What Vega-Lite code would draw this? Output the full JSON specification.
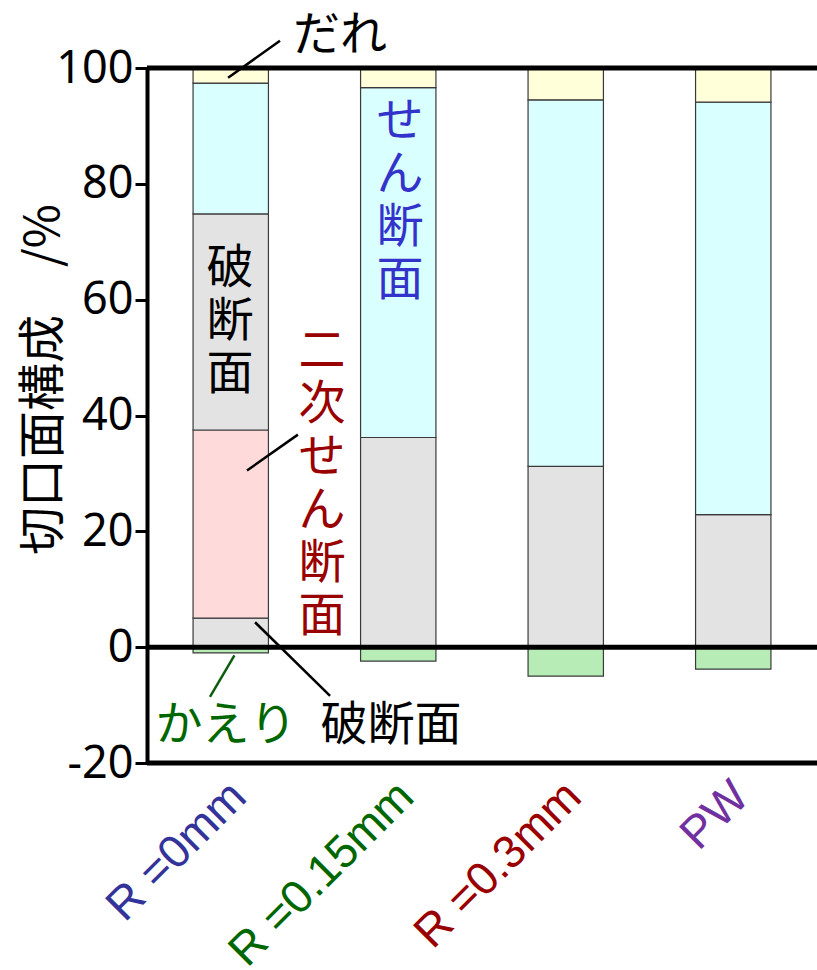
{
  "$schema": "https://vega.github.io/schema/vega-lite/v6.json",
  "width": 670,
  "height": 695,
  "autosize": "none",
  "padding": {"left": 147, "top": 68, "right": 0, "bottom": 207},
  "background": "white",
  "config": {"view": {"stroke": null}, "font": "Noto Sans CJK JP"},
  "datasets": {
    "bars": [
      {"cond": "R=0mm", "part": "かえり", "lo": -1.0, "hi": 0},
      {"cond": "R=0mm", "part": "破断面", "lo": 0, "hi": 5.0},
      {"cond": "R=0mm", "part": "二次せん断面", "lo": 5.0, "hi": 37.5},
      {"cond": "R=0mm", "part": "破断面", "lo": 37.5, "hi": 74.8},
      {"cond": "R=0mm", "part": "せん断面", "lo": 74.8, "hi": 97.4},
      {"cond": "R=0mm", "part": "だれ", "lo": 97.4, "hi": 100},
      {"cond": "R=0.15mm", "part": "かえり", "lo": -2.4, "hi": 0},
      {"cond": "R=0.15mm", "part": "破断面", "lo": 0, "hi": 36.2},
      {"cond": "R=0.15mm", "part": "せん断面", "lo": 36.2, "hi": 96.6},
      {"cond": "R=0.15mm", "part": "だれ", "lo": 96.6, "hi": 100},
      {"cond": "R=0.3mm", "part": "かえり", "lo": -5.0, "hi": 0},
      {"cond": "R=0.3mm", "part": "破断面", "lo": 0, "hi": 31.2},
      {"cond": "R=0.3mm", "part": "せん断面", "lo": 31.2, "hi": 94.5},
      {"cond": "R=0.3mm", "part": "だれ", "lo": 94.5, "hi": 100},
      {"cond": "PW", "part": "かえり", "lo": -3.8, "hi": 0},
      {"cond": "PW", "part": "破断面", "lo": 0, "hi": 22.9},
      {"cond": "PW", "part": "せん断面", "lo": 22.9, "hi": 94.1},
      {"cond": "PW", "part": "だれ", "lo": 94.1, "hi": 100}
    ],
    "refs": [{"v": 100}, {"v": 0}, {"v": -20}],
    "notes": [
      {"text": "だれ", "part": "だれ", "x": 1.152, "y": 105.6},
      {"text": "せ\nん\n断\n面", "part": "せん断面", "x": 1.51, "y": 90.7},
      {"text": "破\n断\n面", "part": "破断面", "x": 0.496, "y": 65.3},
      {"text": "二\n次\nせ\nん\n断\n面", "part": "二次せん断面", "x": 1.045, "y": 50.9},
      {"text": "かえり", "part": "かえり", "x": 0.472, "y": -13.6},
      {"text": "破断面", "part": "破断面", "x": 1.457, "y": -13.6}
    ],
    "leaders": [
      {"part": "だれ", "x": 0.484, "x2": 0.794, "y": 98.3, "y2": 104.7},
      {"part": "二次せん断面", "x": 0.597, "x2": 0.901, "y": 30.5, "y2": 36.7},
      {"part": "かえり", "x": 0.376, "x2": 0.522, "y": -8.6, "y2": -1.4},
      {"part": "破断面", "x": 0.645, "x2": 1.093, "y": 4.3, "y2": -8.4}
    ]
  },
  "layer": [
    {
      "data": {"name": "bars"},
      "mark": {"type": "bar", "stroke": "#3a3a3a", "strokeWidth": 1.2},
      "encoding": {
        "x": {
          "field": "cond", "type": "nominal", "sort": ["R=0mm", "R=0.15mm", "R=0.3mm", "PW"],
          "scale": {"paddingInner": 0.55, "paddingOuter": 0.275},
          "axis": {
            "title": null, "domain": false, "ticks": false, "orient": "bottom",
            "labelAngle": -45, "labelAlign": "right", "labelBaseline": "middle",
            "labelPadding": 26, "labelOffset": 8, "labelFontSize": 46, "labelFont": "Liberation Sans",
            "labelLimit": 0, "labelOverlap": false,
            "labelExpr": "replace(datum.label, '=', ' =')",
            "labelColor": {
              "condition": [
                {"test": "datum.value === 'R=0mm'", "value": "#333399"},
                {"test": "datum.value === 'R=0.15mm'", "value": "#006600"},
                {"test": "datum.value === 'R=0.3mm'", "value": "#990000"}
              ],
              "value": "#7030a0"
            }
          }
        },
        "y": {
          "field": "lo", "type": "quantitative",
          "scale": {"domain": [-20, 100], "nice": false, "zero": false},
          "axis": {
            "title": "切口面構成　/%", "titleFontSize": 48, "titleFontWeight": "normal", "titleColor": "black",
            "titleFont": "Noto Sans CJK JP", "titleX": -103, "titleY": 311, "titleAngle": -90,
            "titleAlign": "center", "titleBaseline": "middle",
            "values": [-20, 0, 20, 40, 60, 80, 100], "grid": false,
            "labelExpr": "replace(datum.label, '−', '-')",
            "domain": true, "domainWidth": 4, "domainColor": "black",
            "ticks": true, "tickWidth": 3, "tickSize": 12, "tickColor": "black",
            "labelFontSize": 45, "labelFont": "Noto Sans", "labelColor": "black", "labelPadding": 2
          }
        },
        "y2": {"field": "hi"},
        "color": {
          "field": "part", "type": "nominal", "legend": null,
          "scale": {
            "domain": ["かえり", "破断面", "二次せん断面", "せん断面", "だれ"],
            "range": ["#b8ecb6", "#e3e3e3", "#ffdada", "#d9ffff", "#ffffd9"]
          }
        }
      }
    },
    {
      "data": {"name": "refs"},
      "mark": {"type": "rule", "strokeWidth": 5, "color": "black"},
      "encoding": {"y": {"field": "v", "type": "quantitative"}}
    },
    {
      "data": {"name": "leaders"},
      "mark": {"type": "rule", "strokeWidth": 2.5},
      "encoding": {
        "x": {"field": "x", "type": "quantitative", "scale": {"domain": [0, 4], "nice": false}, "axis": null},
        "x2": {"field": "x2"},
        "y": {"field": "y", "type": "quantitative"},
        "y2": {"field": "y2"},
        "color": {
          "field": "part", "type": "nominal", "legend": null,
          "scale": {"domain": ["だれ", "二次せん断面", "かえり", "破断面"], "range": ["black", "black", "#0d5c0d", "black"]}
        }
      }
    },
    {
      "data": {"name": "notes"},
      "mark": {"type": "text", "fontSize": 47, "lineBreak": "\n", "lineHeight": 53, "align": "center", "baseline": "middle", "font": "Noto Sans CJK JP"},
      "encoding": {
        "x": {"field": "x", "type": "quantitative", "scale": {"domain": [0, 4], "nice": false}, "axis": null},
        "y": {"field": "y", "type": "quantitative"},
        "text": {"field": "text"},
        "color": {
          "field": "part", "type": "nominal", "legend": null,
          "scale": {"domain": ["だれ", "せん断面", "破断面", "二次せん断面", "かえり"], "range": ["black", "#3333cc", "black", "#990000", "#006600"]}
        }
      }
    }
  ],
  "resolve": {"scale": {"x": "independent", "color": "independent"}}
}
